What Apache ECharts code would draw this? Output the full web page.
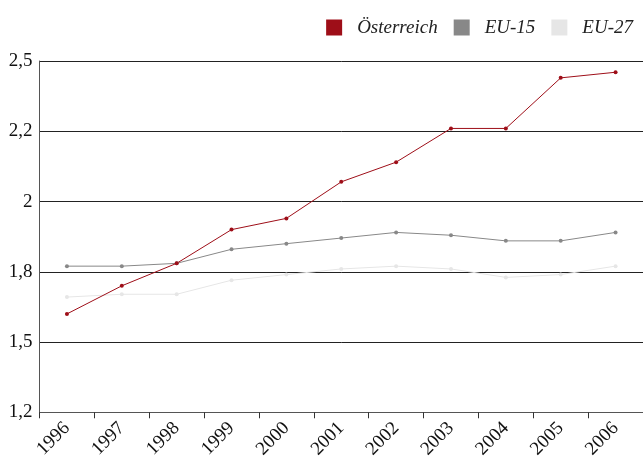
<!DOCTYPE html>
<html><head><meta charset="utf-8">
<script src="https://cdn.jsdelivr.net/npm/echarts@6/dist/echarts.min.js"></script>
<style>html,body{margin:0;padding:0;background:#fff}#c{width:643px;height:461px}</style>
</head><body><div id="c"></div>
<script>
var years = ['1996','1997','1998','1999','2000','2001','2002','2003','2004','2005','2006'];
var oesterreich = [1.60, 1.70, 1.78, 1.90, 1.94, 2.07, 2.14, 2.26, 2.26, 2.44, 2.46];
var eu15 = [1.77, 1.77, 1.78, 1.83, 1.85, 1.87, 1.89, 1.88, 1.86, 1.86, 1.89];
var eu27 = [1.66, 1.67, 1.67, 1.72, 1.74, 1.76, 1.77, 1.76, 1.73, 1.74, 1.77];
var yTicks = [1.25, 1.5, 1.75, 2.0, 2.25, 2.5];
var yTickLabels = ['1,2', '1,5', '1,8', '2', '2,2', '2,5'];

var font = '"Liberation Serif", "DejaVu Serif", serif';
var chart = echarts.init(document.getElementById('c'));
function mk(name, data, color) {
  return {
    name: name, type: 'line', data: data,
    symbol: 'circle', symbolSize: 4,
    lineStyle: { color: color, width: 1 },
    itemStyle: { color: color },
    animation: false
  };
}
chart.setOption({
  animation: false,
  textStyle: { fontFamily: font },
  legend: {
    right: 5, top: 13, icon: 'rect', itemWidth: 16, itemHeight: 16, itemGap: 16,
    textStyle: { fontFamily: font, fontStyle: 'italic', fontSize: 19, color: '#222', padding: [0, 0, 0, 10] },
    data: ['Österreich', 'EU-15', 'EU-27']
  },
  grid: { left: 39.5, right: -8, top: 61, bottom: 48, containLabel: false },
  xAxis: {
    type: 'category', data: years, boundaryGap: true,
    axisLine: { lineStyle: { color: '#555', width: 1 } },
    axisTick: { show: true, length: 6, lineStyle: { color: '#333' } },
    axisLabel: { rotate: 45, fontFamily: font, fontSize: 19, color: '#111', margin: 13 }
  },
  yAxis: {
    type: 'value', min: 1.25, max: 2.5, interval: 0.25,
    axisLine: { show: true, lineStyle: { color: '#555', width: 1 } },
    axisTick: { show: false },
    splitLine: { lineStyle: { color: '#222', width: 1 } },
    axisLabel: {
      fontFamily: font, fontSize: 19, color: '#111', margin: 7,
      formatter: function (v) {
        for (var i = 0; i < yTicks.length; i++) if (Math.abs(yTicks[i] - v) < 1e-6) return yTickLabels[i];
        return '';
      }
    }
  },
  series: [
    mk('EU-27', eu27, '#e6e6e6'),
    mk('EU-15', eu15, '#888888'),
    mk('Österreich', oesterreich, '#9e0e18')
  ]
});
</script></body></html>
